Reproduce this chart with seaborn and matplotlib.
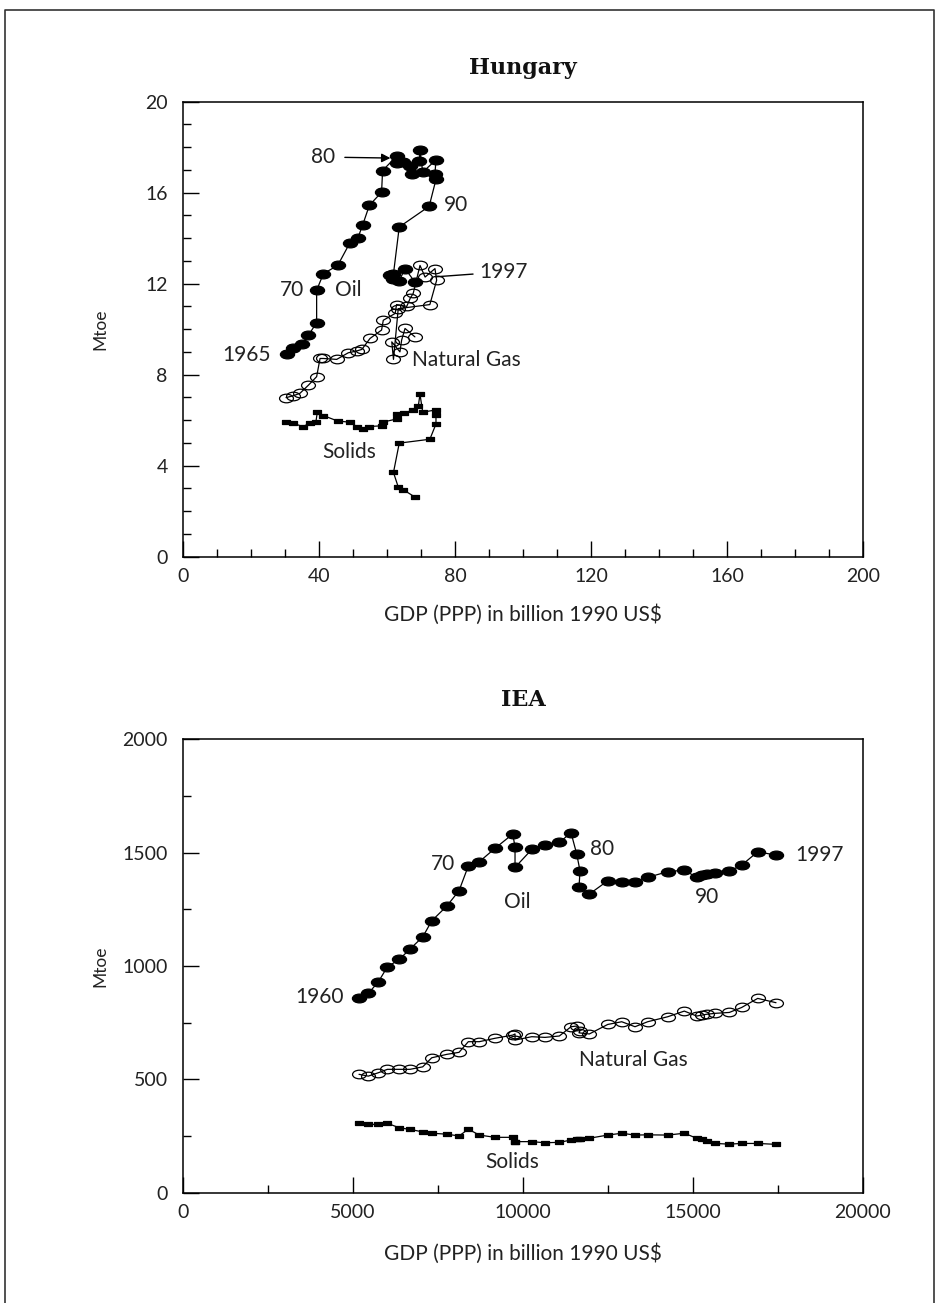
import numpy as np
import matplotlib
matplotlib.use("Agg")
import matplotlib.pyplot as plt
import seaborn as sns
from matplotlib.path import Path
from matplotlib.transforms import Affine2D
from matplotlib.lines import Line2D
from matplotlib.ticker import MultipleLocator


# Hungary, 1965-1997 (GDP in billion 1990 US$, Mtoe)
hu_oil_gdp = [30.7, 32.4, 34.9, 36.9, 39.3, 39.3, 41.3, 45.5, 49.1, 51.4,
              52.8, 54.8, 58.4, 58.7, 62.8, 62.8, 64.8, 66.8, 67.3, 69.5,
              69.7, 70.5, 74.4, 74.1, 74.4, 72.4, 63.6, 61.9, 60.9, 61.9,
              63.5, 65.3, 68.2]
hu_oil = [8.9, 9.15, 9.33, 9.74, 10.28, 11.71, 12.44, 12.8, 13.8, 14.0,
          14.56, 15.44, 16.02, 16.97, 17.6, 17.3, 17.34, 17.19, 16.8, 17.38,
          17.88, 16.9, 17.44, 16.83, 16.58, 15.4, 14.49, 12.44, 12.4, 12.19,
          12.1, 12.66, 12.07]

hu_gas_gdp = [30.3, 32.4, 34.4, 36.9, 39.3, 40.3, 41.3, 45.2, 48.6, 51.1,
              52.6, 55.0, 58.4, 58.9, 62.4, 62.8, 65.8, 66.8, 67.7, 69.7,
              71.2, 74.1, 74.6, 72.6, 63.3, 61.9, 61.4, 63.8, 64.3, 65.3,
              68.2]
hu_gas = [6.99, 7.07, 7.18, 7.54, 7.91, 8.71, 8.71, 8.67, 8.96, 9.04,
          9.11, 9.59, 9.96, 10.39, 10.69, 11.08, 11.0, 11.35, 11.57, 12.8,
          12.29, 12.66, 12.15, 11.08, 10.9, 8.67, 9.44, 9.0, 9.52, 10.03,
          9.66]

hu_sol_gdp = [30.3, 32.4, 35.2, 37.4, 39.1, 39.5, 41.3, 45.5, 49.1, 51.1,
              52.8, 54.8, 58.4, 58.7, 62.8, 62.8, 65.1, 67.5, 69.2, 69.7,
              70.5, 74.4, 74.4, 74.4, 72.6, 63.6, 61.9, 63.3, 64.8, 68.2]
hu_sol = [5.91, 5.86, 5.72, 5.86, 5.94, 6.35, 6.2, 5.96, 5.91, 5.72,
          5.61, 5.72, 5.75, 5.91, 6.05, 6.26, 6.3, 6.45, 6.62, 7.14,
          6.35, 6.45, 6.23, 5.83, 5.16, 4.99, 3.7, 3.06, 2.94, 2.62]

# IEA, 1960-1997
iea_gdp = [5176, 5450, 5745, 6010, 6362, 6676, 7050, 7315, 7756, 8118,
           8391, 8715, 9176, 9697, 9765, 9765, 10256, 10647, 11068, 11412,
           11579, 11676, 11647, 11950, 12491, 12903, 13294, 13667, 14256, 14744,
           15108, 15250, 15403, 15647, 16068, 16432, 16903, 17441]
iea_oil = [860, 879, 930, 996, 1029, 1075, 1128, 1199, 1264, 1332,
           1441, 1460, 1519, 1582, 1526, 1435, 1514, 1533, 1545, 1588,
           1494, 1420, 1347, 1317, 1376, 1371, 1369, 1391, 1416, 1423,
           1391, 1400, 1405, 1411, 1419, 1445, 1504, 1489]
iea_gas = [522, 514, 529, 544, 544, 544, 555, 595, 610, 619,
           666, 666, 681, 695, 700, 673, 688, 685, 691, 732,
           735, 715, 705, 700, 742, 754, 732, 754, 776, 801,
           779, 783, 787, 791, 795, 817, 857, 838]
iea_sol = [308, 301, 301, 306, 286, 279, 268, 262, 258, 250,
           280, 254, 244, 244, 225, 225, 225, 220, 222, 232,
           235, 235, 238, 240, 254, 262, 254, 255, 254, 262,
           240, 235, 228, 217, 214, 217, 217, 213]

FONT = "Lato"
XLABEL = "GDP (PPP) in billion 1990 US$"
TEXT_COLOR = "#222222"

ellipse = Affine2D().scale(1.0, 0.62).transform_path(Path.unit_circle())
rect = Path([(-1, -0.65), (1, -0.65), (1, 0.65), (-1, 0.65), (-1, -0.65)],
            closed=True)


def draw_series(ax, x, y, kind):

    style = dict(
        color="black",
        linewidth=0.9,
        markeredgecolor="black",
        markeredgewidth=0.9,
    )

    if kind == "oil":
        style.update(marker=ellipse, markersize=10.2, markerfacecolor="black")
    elif kind == "gas":
        style.update(marker=ellipse, markersize=10.0, markerfacecolor="none")
    else:
        style.update(marker=rect, markersize=5.4, markerfacecolor="black")

    sns.lineplot(
        x=x,
        y=y,
        sort=False,
        estimator=None,
        ax=ax,
        **style
    )


def style_axes(ax, xmax, xmajor, xminor, ymax, ymajor, yminor):

    ax.set_xlim(0, xmax)
    ax.set_ylim(0, ymax)

    ax.xaxis.set_major_locator(MultipleLocator(xmajor))
    ax.xaxis.set_minor_locator(MultipleLocator(xminor))
    ax.yaxis.set_major_locator(MultipleLocator(ymajor))
    ax.yaxis.set_minor_locator(MultipleLocator(yminor))

    ax.tick_params(
        which="both", bottom=True, left=True, top=False, right=False,
        direction="in", width=1.0, color="black"
    )
    ax.tick_params(which="major", length=11.5, labelsize=14,
                   labelcolor=TEXT_COLOR)
    ax.tick_params(which="minor", length=5.8)
    ax.tick_params(axis="y", which="major", pad=11)
    ax.tick_params(axis="x", which="major", pad=8)

    for side in ["left", "right", "top", "bottom"]:
        ax.spines[side].set_visible(True)
        ax.spines[side].set_linewidth(1.1)
        ax.spines[side].set_color("black")

    ax.set_xlabel("")
    ax.set_ylabel("")

    for lab in ax.get_xticklabels() + ax.get_yticklabels():
        lab.set_fontfamily(FONT)


def run_plot():

    sns.set_theme(style="ticks")
    plt.rcParams["font.family"] = [FONT, "DejaVu Sans"]

    fig = plt.figure(figsize=(9.4, 13.03), dpi=100)

    # ---- Hungary ----
    ax1 = fig.add_axes([0.1947, 0.5728, 0.7234, 0.3492])

    draw_series(ax1, hu_oil_gdp, hu_oil, "oil")
    draw_series(ax1, hu_gas_gdp, hu_gas, "gas")
    draw_series(ax1, hu_sol_gdp, hu_sol, "solids")

    style_axes(ax1, 200, 40, 10, 20, 4, 1)

    txt = dict(fontsize=15, color=TEXT_COLOR, ha="center", va="center")
    ax1.text(41.3, 17.58, "80", **txt)
    ax1.text(80.2, 15.46, "90", **txt)
    ax1.text(32.1, 11.72, "70", **txt)
    ax1.text(48.5, 11.72, "Oil", **txt)
    ax1.text(18.7, 8.87, "1965", **txt)
    ax1.text(94.4, 12.51, "1997", **txt)
    ax1.text(48.8, 4.62, "Solids", **txt)
    ax1.text(67.4, 8.65, "Natural Gas", fontsize=15, color=TEXT_COLOR,
             ha="left", va="center")

    ax1.annotate(
        "", xy=(61.0, 17.52), xytext=(47.6, 17.55),
        arrowprops=dict(arrowstyle="-|>", color="black", lw=1.0,
                        mutation_scale=13, shrinkA=0, shrinkB=0)
    )
    ax1.annotate(
        "", xy=(74.3, 12.3), xytext=(85.3, 12.42),
        arrowprops=dict(arrowstyle="-", color="black", lw=1.0,
                        shrinkA=0, shrinkB=0)
    )

    # ---- IEA ----
    ax2 = fig.add_axes([0.1947, 0.0847, 0.7234, 0.3479])

    draw_series(ax2, iea_gdp, iea_oil, "oil")
    draw_series(ax2, iea_gdp, iea_gas, "gas")
    draw_series(ax2, iea_gdp, iea_sol, "solids")

    style_axes(ax2, 20000, 5000, 2500, 2000, 500, 250)

    ax2.text(4715, 864, "1960", fontsize=15, color=TEXT_COLOR,
             ha="right", va="center")
    ax2.text(7642, 1452, "70", **txt)
    ax2.text(12333, 1514, "80", **txt)
    ax2.text(9833, 1283, "Oil", **txt)
    ax2.text(15402, 1305, "90", **txt)
    ax2.text(18735, 1489, "1997", **txt)
    ax2.text(13245, 585, "Natural Gas", **txt)
    ax2.text(9676, 136, "Solids", **txt)

    # titles and axis labels
    fig.text(0.5564, 0.9478, "Hungary", family="DejaVu Serif",
             fontweight="bold", fontsize=16, ha="center", va="center",
             color="#111111")
    fig.text(0.5564, 1 - 700 / 1303, "IEA", family="DejaVu Serif",
             fontweight="bold", fontsize=16, ha="center", va="center",
             color="#111111")

    fig.text(0.1064, 0.7474, "Mtoe", rotation=90, fontsize=12.5,
             ha="center", va="center", color=TEXT_COLOR)
    fig.text(0.1064, 0.2586, "Mtoe", rotation=90, fontsize=12.5,
             ha="center", va="center", color=TEXT_COLOR)

    fig.text(0.5564, 1 - 615 / 1303, XLABEL, fontsize=15,
             ha="center", va="center", color=TEXT_COLOR)
    fig.text(0.5564, 1 - 1254 / 1303, XLABEL, fontsize=15,
             ha="center", va="center", color=TEXT_COLOR)

    # page frame (open at the bottom)
    x0, x1 = 4.5 / 940, 934 / 940
    ytop = 1 - 10 / 1303
    fig.add_artist(Line2D([x0, x0, x1, x1], [0, ytop, ytop, 0],
                          transform=fig.transFigure, color="#333333",
                          linewidth=1.2))

    fig.savefig("out.png", dpi=100, facecolor="white")
    plt.close(fig)


if __name__ == "__main__":

    run_plot()
